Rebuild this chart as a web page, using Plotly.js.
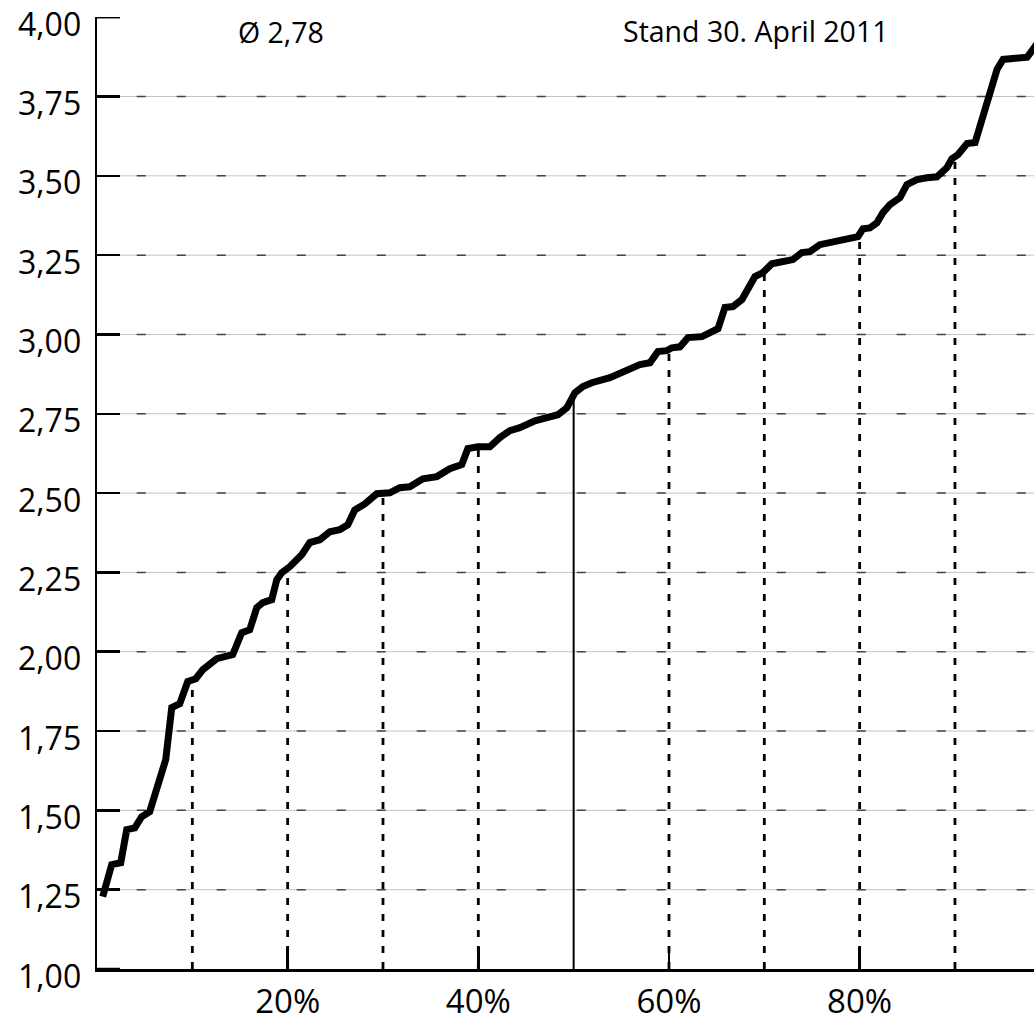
<!DOCTYPE html>
<html>
<head>
<meta charset="utf-8">
<script src="https://cdn.plot.ly/plotly-3.0.1.min.js"></script>
<style>
  html, body { margin: 0; padding: 0; background: #ffffff; }
  #chart { width: 1034px; height: 1027px; }
</style>
</head>
<body>
<div id="chart"></div>
<script>
// Percentile position (%) along the ranking
const percentile = [0.60, 1.54, 2.49, 3.12, 3.96, 4.69, 5.53, 6.37, 7.21, 7.84, 8.68, 9.52, 10.36, 11.09, 12.56, 14.24, 15.18, 16.02, 16.76, 17.39, 18.33, 18.86, 19.38, 20.22, 20.75, 21.48, 22.32, 23.37, 24.42, 25.47, 26.31, 27.04, 28.09, 29.35, 30.71, 31.76, 32.81, 34.18, 35.65, 37.01, 38.27, 38.90, 39.95, 41.21, 42.26, 43.31, 44.36, 45.94, 47.20, 48.35, 49.29, 50.13, 50.97, 51.91, 53.80, 55.37, 56.95, 58.00, 58.84, 59.78, 60.31, 61.15, 61.99, 63.46, 64.30, 65.14, 65.87, 66.71, 67.65, 69.01, 69.85, 70.79, 71.84, 73.00, 73.94, 74.78, 75.83, 77.20, 78.98, 79.82, 80.35, 81.08, 81.81, 82.44, 83.18, 84.23, 84.96, 86.01, 87.06, 88.11, 89.16, 89.69, 90.32, 91.27, 92.11, 92.84, 93.37, 93.89, 94.42, 95.05, 96.10, 97.57, 98.20, 99.00];
// Grade value
const grade = [1.228, 1.329, 1.335, 1.439, 1.445, 1.480, 1.496, 1.574, 1.660, 1.824, 1.836, 1.906, 1.915, 1.943, 1.978, 1.991, 2.060, 2.069, 2.139, 2.155, 2.164, 2.227, 2.249, 2.268, 2.281, 2.306, 2.344, 2.353, 2.378, 2.385, 2.400, 2.447, 2.466, 2.498, 2.501, 2.517, 2.520, 2.545, 2.552, 2.577, 2.590, 2.640, 2.646, 2.646, 2.675, 2.697, 2.706, 2.728, 2.738, 2.747, 2.769, 2.816, 2.836, 2.848, 2.864, 2.883, 2.905, 2.911, 2.946, 2.949, 2.958, 2.961, 2.990, 2.993, 3.006, 3.018, 3.085, 3.088, 3.110, 3.182, 3.195, 3.223, 3.229, 3.236, 3.258, 3.261, 3.283, 3.292, 3.299, 3.308, 3.333, 3.336, 3.352, 3.384, 3.409, 3.431, 3.472, 3.488, 3.494, 3.497, 3.526, 3.554, 3.567, 3.602, 3.605, 3.684, 3.725, 3.779, 3.836, 3.867, 3.871, 3.874, 3.899, 3.935];

const yTickVals = [1.00, 1.25, 1.50, 1.75, 2.00, 2.25, 2.50, 2.75, 3.00, 3.25, 3.50, 3.75, 4.00];
const yTickText = ['1,00', '1,25', '1,50', '1,75', '2,00', '2,25', '2,50', '2,75', '3,00', '3,25', '3,50', '3,75', '4,00'];
const gridVals = [1.25, 1.50, 1.75, 2.00, 2.25, 2.50, 2.75, 3.00, 3.25, 3.50, 3.75];
const xTickVals = [20, 40, 60, 80];
const xTickText = ['20%', '40%', '60%', '80%'];
const deciles = [10, 20, 30, 40, 50, 60, 70, 80, 90];
const medianDecile = 50;
const averageText = 'Ø 2,78';
const dateText = 'Stand 30. April 2011';

function interp(x) {
  for (let i = 0; i < percentile.length - 1; i++) {
    if (x >= percentile[i] && x <= percentile[i + 1]) {
      const t = (x - percentile[i]) / (percentile[i + 1] - percentile[i]);
      return grade[i] + t * (grade[i + 1] - grade[i]);
    }
  }
  return grade[grade.length - 1];
}

const shapes = [];
gridVals.forEach(v => {
  shapes.push({type: 'line', xref: 'paper', yref: 'y', x0: 0, x1: 1, y0: v, y1: v,
    layer: 'below', line: {color: '#c4c4c4', width: 1}});
  shapes.push({type: 'line', xref: 'paper', yref: 'y', x0: 0.0424, x1: 1, y0: v, y1: v,
    layer: 'below', line: {color: '#444444', width: 1.5, dash: '9px,31px'}});
});
// tick marks at the range ends (1,00 and 4,00), which Plotly hides next to the axis ends
[yTickVals[0], yTickVals[yTickVals.length - 1]].forEach(v => {
  shapes.push({type: 'line', xref: 'paper', yref: 'y', x0: 0, x1: 0.0246, y0: v, y1: v,
    layer: 'above', line: {color: '#000000', width: 2.5}});
});
deciles.forEach(d => {
  shapes.push({type: 'line', xref: 'x', yref: 'y', x0: d, x1: d, y0: 1, y1: interp(d),
    layer: 'below',
    line: {color: '#000000', width: d === medianDecile ? 2 : 2.8, dash: d === medianDecile ? 'solid' : '7px,9px'}});
});

// y tick labels as annotations (sit slightly below their tick, as in the original)
const annotations = yTickVals.map((v, i) => ({
  xref: 'paper', yref: 'y', x: 0, y: v, xanchor: 'right', yanchor: 'middle',
  xshift: -14, yshift: -6, text: yTickText[i], showarrow: false,
  font: {size: 32, family: 'Open Sans, sans-serif', color: '#000000'}
}));
annotations.push(
  {xref: 'paper', yref: 'paper', x: 0.196, y: 0.984, xanchor: 'center', yanchor: 'middle',
   text: averageText, showarrow: false, font: {size: 28.5, family: 'Open Sans, sans-serif', color: '#000000'}},
  {xref: 'paper', yref: 'paper', x: 0.703, y: 0.985, xanchor: 'center', yanchor: 'middle',
   text: dateText, showarrow: false, font: {size: 28.5, family: 'Open Sans, sans-serif', color: '#000000'}}
);

const trace = {
  x: percentile, y: grade, type: 'scatter', mode: 'lines',
  line: {color: '#000000', width: 7},
  hoverinfo: 'skip'
};

const layout = {
  width: 1034, height: 1027,
  margin: {l: 97, r: 0, t: 17, b: 58, pad: 0},
  paper_bgcolor: '#ffffff', plot_bgcolor: '#ffffff',
  font: {family: 'Open Sans, sans-serif', color: '#000000', size: 32},
  showlegend: false,
  xaxis: {
    range: [0, 98.29], showgrid: false, zeroline: false,
    showline: true, linecolor: '#000000', linewidth: 2.5,
    tickvals: xTickVals, ticktext: xTickText,
    ticks: 'inside', ticklen: 22, tickwidth: 2.5, tickcolor: '#000000',
    tickfont: {size: 33, family: 'Open Sans, sans-serif', color: '#000000'},
    ticklabelstandoff: 2
  },
  yaxis: {
    range: [1, 4.0006], showgrid: false, zeroline: false,
    showline: true, linecolor: '#000000', linewidth: 2.5,
    tickvals: yTickVals, showticklabels: false,
    ticks: 'inside', ticklen: 23, tickwidth: 2.5, tickcolor: '#000000'
  },
  shapes: shapes,
  annotations: annotations
};

Plotly.newPlot('chart', [trace], layout, {displayModeBar: false, staticPlot: true});
</script>
</body>
</html>
